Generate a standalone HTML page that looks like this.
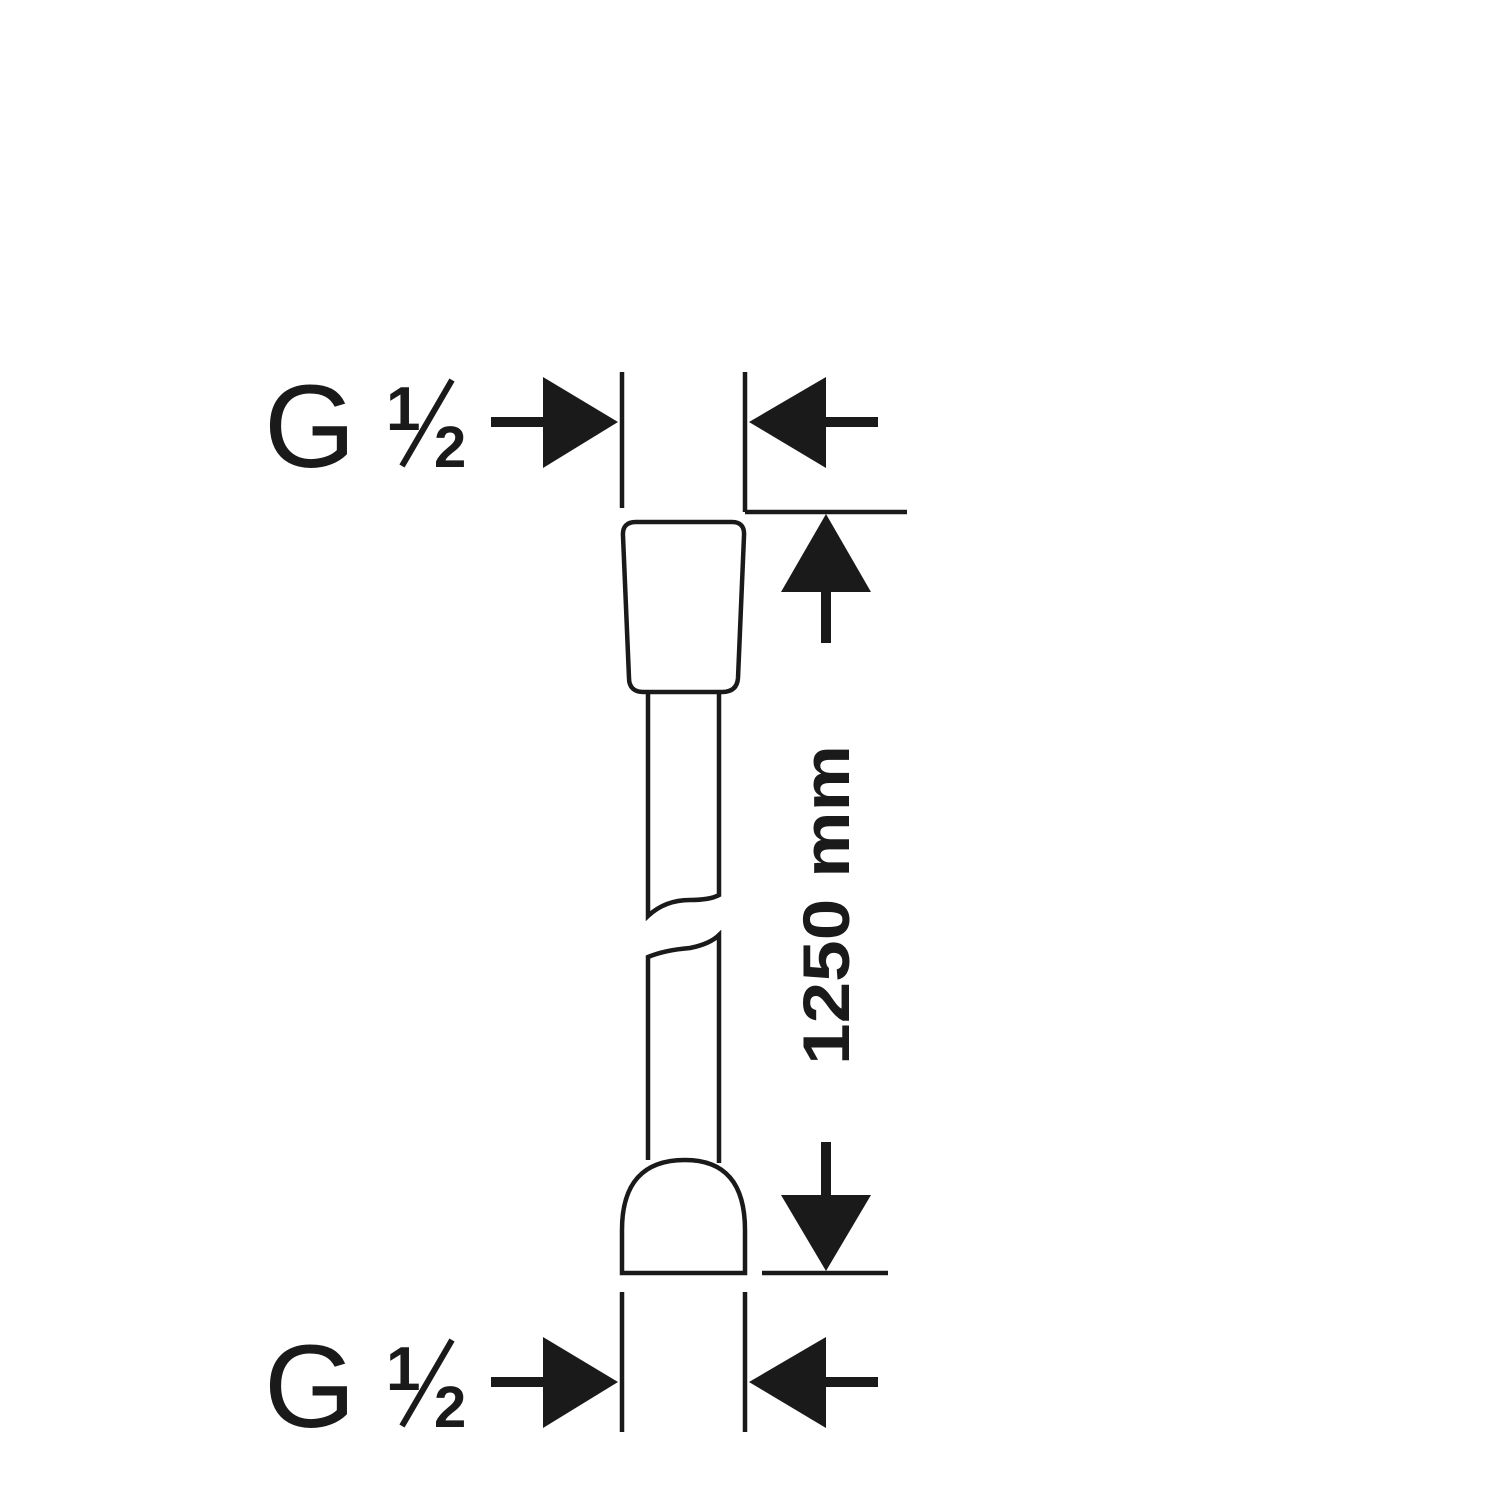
<!DOCTYPE html>
<html><head><style>html,body{margin:0;padding:0;background:#fff}</style></head>
<body>
<svg width="1500" height="1500" viewBox="0 0 1500 1500" xmlns="http://www.w3.org/2000/svg">
<rect width="1500" height="1500" fill="#fff"/>
<g stroke="#1a1a1a" fill="none" stroke-width="4.5">
  <path d="M636,522 L732,522 Q745,522 744,536 L738,678 Q737,692 722,692 L644,692 Q629,692 629,678 L623,536 Q622,522 636,522 Z"/>
  <path d="M648,692 L648,916 Q665,900 690,900 Q710,900 719,895 L719,692"/>
  <path d="M648,1160 L648,957 Q665,950 690,948 Q710,944 719,935 L719,1163"/>
  <path d="M622,1273 L622,1230 Q622,1160 685,1160 Q745,1160 745,1230 L745,1273 Z"/>
  <line x1="622" y1="372" x2="622" y2="508"/>
  <line x1="745" y1="372" x2="745" y2="512"/>
  <line x1="745" y1="512" x2="907" y2="512"/>
  <line x1="762" y1="1273" x2="888" y2="1273"/>
  <line x1="622" y1="1292" x2="622" y2="1432"/>
  <line x1="745" y1="1292" x2="745" y2="1432"/>
</g>
<g fill="#1a1a1a">
  <polygon points="826,514 781,592 871,592"/>
  <rect x="821" y="590" width="10" height="53"/>
  <polygon points="826,1271 781,1195 871,1195"/>
  <rect x="821" y="1142" width="10" height="55"/>
  <rect x="491" y="417" width="54" height="10"/>
  <polygon points="543,377 618,422 543,468"/>
  <polygon points="826,377 749,422 826,468"/>
  <rect x="824" y="417" width="54" height="10"/>
  <rect x="491" y="1377" width="54" height="10"/>
  <polygon points="543,1337 618,1382 543,1428"/>
  <polygon points="826,1337 749,1382 826,1428"/>
  <rect x="824" y="1377" width="54" height="10"/>
</g>
<g font-family="Liberation Sans, sans-serif" fill="#1a1a1a">
  <text x="264" y="467" font-size="118">G</text>
  <text x="386" y="430" font-size="62" font-weight="bold">1</text>
  <text x="434" y="467" font-size="58" font-weight="bold">2</text>
  <line x1="402" y1="466" x2="452" y2="380" stroke="#1a1a1a" stroke-width="6"/>
  <text x="264" y="1427" font-size="118">G</text>
  <text x="386" y="1390" font-size="62" font-weight="bold">1</text>
  <text x="434" y="1427" font-size="58" font-weight="bold">2</text>
  <line x1="402" y1="1426" x2="452" y2="1340" stroke="#1a1a1a" stroke-width="6"/>
  <text transform="translate(849,1065) rotate(-90)" font-size="66" font-weight="bold" textLength="320" lengthAdjust="spacingAndGlyphs">1250 mm</text>
</g>
</svg>
</body></html>
